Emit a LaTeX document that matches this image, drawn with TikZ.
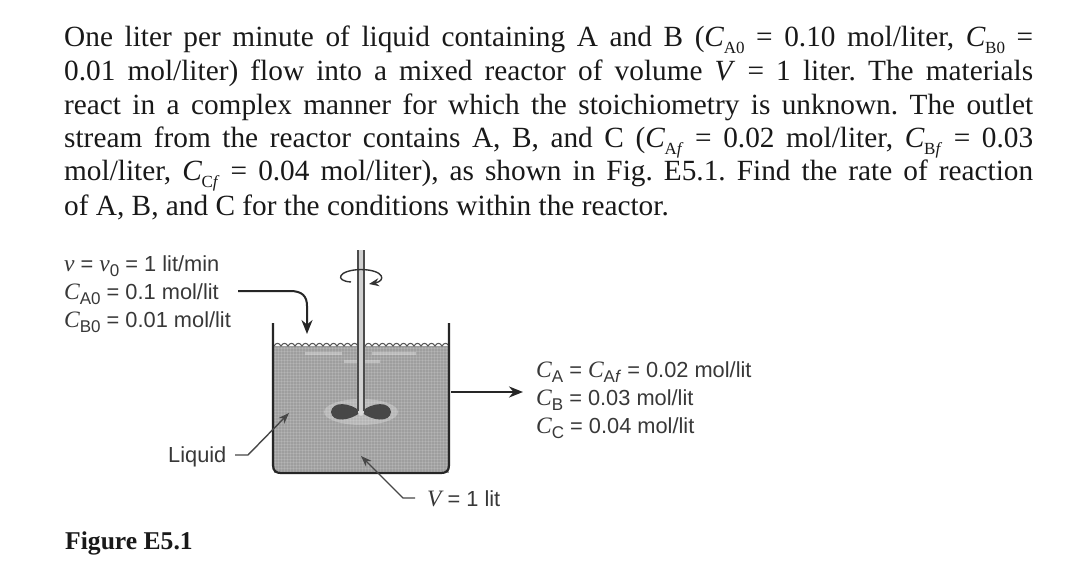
\documentclass[tikz,border=0pt]{standalone}
\usepackage{fontspec}
\setmainfont{Liberation Serif}
\setsansfont{Liberation Sans}
\usetikzlibrary{arrows.meta}
\frenchspacing
\newcommand{\Cs}[2]{\textit{C}\kern-0.5pt\raisebox{-0.22em}{\fontsize{17}{17}\selectfont #1\textit{#2}}}
\newcommand{\Fv}[1]{{\rmfamily\itshape\fontsize{23.5}{23.5}\selectfont #1}}
\newcommand{\Fs}[1]{\raisebox{-0.25em}{\fontsize{17}{17}\selectfont #1}}
\newcommand{\Bline}[1]{\hbox to 969pt{\spaceskip=0.25em plus 1em minus 0.1em #1}}
\tikzset{
  x=1pt,y=-1pt,
  bodyline/.style={anchor=base west,inner sep=0pt,font=\fontsize{29.3}{30}\selectfont,text=black!90},
  figlabel/.style={anchor=base west,inner sep=0pt,font=\sffamily\fontsize{21.8}{22}\selectfont,text=black!78},
  title/.style={anchor=base west,inner sep=0pt,font=\bfseries\fontsize{25.6}{26}\selectfont,text=black!90},
  wall/.style={line width=2.2pt,draw=black!85},
  flow/.style={line width=2pt,draw=black!85,-{Stealth[length=14pt,width=11pt]}},
  leader/.style={line width=1.4pt,draw=black!72,-{Stealth[length=11pt,width=8pt]}},
  stipple/.style={line width=0.8pt,draw=white,opacity=0.13}
}
\begin{document}
\begin{tikzpicture}
\useasboundingbox (0,0) rectangle (1080,575);
\fill[white] (0,0) rectangle (1080,575);
\node[bodyline] (l1) at (64,47) {\Bline{One liter per minute of liquid containing A and B (\Cs{A0}{} = 0.10 mol/liter, \Cs{B0}{} =}};
\node[bodyline] (l2) at (64,81) {\Bline{0.01 mol/liter) flow into a mixed reactor of volume \textit{V} = 1 liter. The materials}};
\node[bodyline] (l3) at (64,115) {\Bline{react in a complex manner for which the stoichiometry is unknown. The outlet}};
\node[bodyline] (l4) at (64,148) {\Bline{stream from the reactor contains A, B, and C (\Cs{A}{f} = 0.02 mol/liter, \Cs{B}{f} = 0.03}};
\node[bodyline] (l5) at (64,181) {\Bline{mol/liter, \Cs{C}{f} = 0.04 mol/liter), as shown in Fig. E5.1. Find the rate of reaction}};
\node[bodyline] (l6) at (64,215) {of A, B, and C for the conditions within the reactor.};
% liquid
\fill[black!38] (274,346) rectangle (449,473);
\foreach \k in {0,...,41}{\draw[stipple] (274,{348+\k*3}) -- (449,{348+\k*3});}
\foreach \k in {0,...,57}{\draw[stipple] ({275+\k*3},347) -- ({275+\k*3},472);}
\fill[white,opacity=0.3] (305,352) rectangle (342,355);
\fill[white,opacity=0.3] (372,352) rectangle (416,355);
\fill[white,opacity=0.3] (344,360) rectangle (380,363);
% surface
\draw[line width=1.1pt,draw=black!65] (274,346)
 \foreach \k in {0,...,24}{ .. controls ({274+\k*7+2},342.5) and ({274+\k*7+5},342.5) .. ({274+\k*7+7},346)};
% tank
\draw[wall] (273,323) -- (273,465) .. controls (273,471) and (276,473) .. (281,473) -- (441,473) .. controls (446,473) and (449,471) .. (449,465) -- (449,323);
% impeller
\fill[white,opacity=0.25] (361,412) ellipse (37 and 13);
\coordinate (hub) at (361,412);
\fill[black!72] (hub) .. controls (350,402) and (332,401) .. (331,412) .. controls (332,423) and (350,421) .. (hub);
\fill[black!72] (hub) .. controls (372,402) and (390,401) .. (391,412) .. controls (390,423) and (372,421) .. (hub);
% shaft
\fill[black!18] (358,250) rectangle (364,413);
\draw[line width=1.5pt,draw=black!70] (358,250) -- (358,411);
\draw[line width=1.5pt,draw=black!70] (364,250) -- (364,411);
\fill[black!15] (361,413) circle (2.8);
% rotation arrow
\draw[line width=1.4pt,draw=black!80,-{Stealth[length=10pt,width=8pt]}] (351,282) .. controls (334,281) and (338,270) .. (361,269.5) .. controls (385,270) and (386,281) .. (369,284);
% labels
\node[figlabel] (feed1) at (64,271) {\Fv{v} = \Fv{v}\Fs{0} = 1 lit/min};
\node[figlabel] (feed2) at (64,299) {\Fv{C}\Fs{A0} = 0.1 mol/lit};
\node[figlabel] (feed3) at (64,327) {\Fv{C}\Fs{B0} = 0.01 mol/lit};
\node[figlabel] (out1) at (536,377) {\Fv{C}\Fs{A} = \Fv{C}\Fs{A\textit{f}} = 0.02 mol/lit};
\node[figlabel] (out2) at (536,405) {\Fv{C}\Fs{B} = 0.03 mol/lit};
\node[figlabel] (out3) at (536,433) {\Fv{C}\Fs{C} = 0.04 mol/lit};
\node[figlabel] (liq) at (168,462) {Liquid};
\node[figlabel] (vol) at (427,506) {\Fv{V} = 1 lit};
\node[title] (fig) at (65,549) {Figure E5.1};
% connectors
\coordinate (feedstart) at (238,291);
\coordinate (feedin) at (307,334);
\coordinate (outend) at (523,392);
\coordinate (tankwall) at (451,392);
\coordinate (liqstart) at (235,455);
\coordinate (liqend) at (289,413);
\coordinate (volstart) at (415,498);
\coordinate (volend) at (361,456);
\draw[flow] (feedstart) -- (290,291) .. controls (302,291) and (307,296) .. (307,306) -- (feedin);
\draw[flow] (tankwall) -- (outend);
\draw[leader] (liqstart) -- (248,455) -- (liqend);
\draw[leader] (volstart) -- (403,498) -- (volend);
\end{tikzpicture}
\end{document}
